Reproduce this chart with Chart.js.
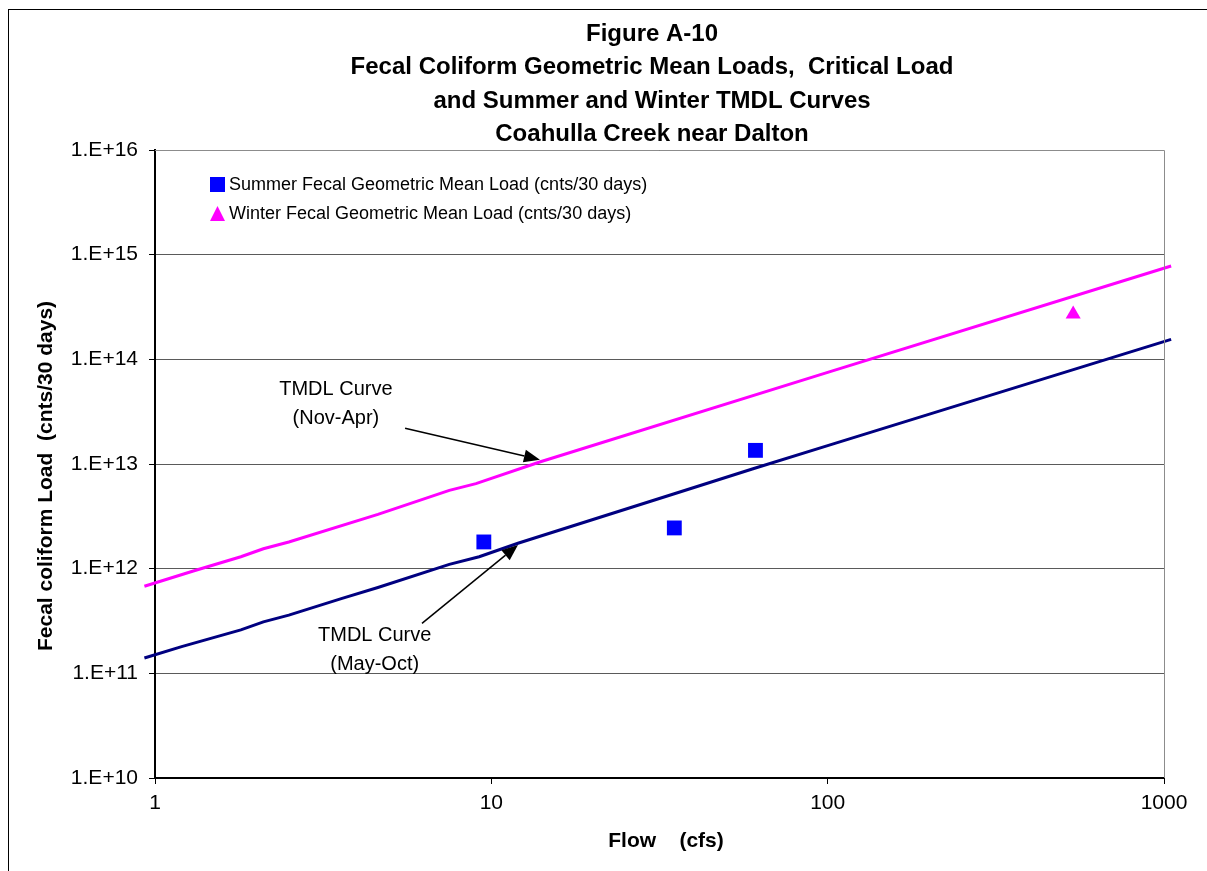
<!DOCTYPE html>
<html>
<head>
<meta charset="utf-8">
<script src="https://cdn.jsdelivr.net/npm/chart.js@4/dist/chart.umd.min.js"></script>
<style>
  html, body { margin: 0; padding: 0; background: #fff; }
  #wrap { position: relative; width: 1207px; height: 871px; overflow: hidden; }
  #frame { position: absolute; left: 8px; top: 9px; width: 1300px; height: 1000px; border: 1px solid #000; box-sizing: border-box; }
  canvas { position: absolute; left: 0; top: 0; }
</style>
</head>
<body>
<div id="wrap">
  <div id="frame"></div>
  <canvas id="chart" width="1207" height="871"></canvas>
</div>
<script>
// titles
const titleLines = [
  "Figure A-10",
  "Fecal Coliform Geometric Mean Loads,  Critical Load",
  "and Summer and Winter TMDL Curves",
  "Coahulla Creek near Dalton"
];
const xTitle = "Flow    (cfs)";
const yTitle = "Fecal coliform Load  (cnts/30 days)";

// tick values
const xTicks = [1, 10, 100, 1000];
const yTicks = [1e10, 1e11, 1e12, 1e13, 1e14, 1e15, 1e16];

// TMDL curves (flow cfs, load cnts/30 days)
const summerCurveFlow = [0.93, 1.2, 1.8, 2.1, 2.5, 3.6, 4.6, 7.5, 9.2, 12, 35, 60, 100, 1050];
const summerCurveLoad = [1.4e11, 1.8e11, 2.6e11, 3.1e11, 3.6e11, 5.2e11, 6.6e11, 1.1e12, 1.3e12, 1.75e12, 5.2e12, 9e12, 1.5e13, 1.55e14];
const winterCurveFlow = [0.93, 1.3, 1.8, 2.1, 2.5, 4.6, 7.5, 9, 14, 100, 1050];
const winterCurveLoad = [6.8e11, 9.5e11, 1.3e12, 1.55e12, 1.8e12, 3.3e12, 5.6e12, 6.5e12, 1.05e13, 7.5e13, 7.8e14];

// geometric mean loads
const summerFlow = [9.5, 35, 61];
const summerLoad = [1.8e12, 2.45e12, 1.35e13];
const winterFlow = [537];
const winterLoad = [2.7e14];

const summerLabel = "Summer Fecal Geometric Mean Load (cnts/30 days)";
const winterLabel = "Winter Fecal Geometric Mean Load (cnts/30 days)";

// annotation text + arrows, in data units
const notes = [
  { lines: ["TMDL Curve", "(Nov-Apr)"], at: [3.45, 5.1e13], from: [5.54, 2.2e13], to: [13.95, 1.1e13] },
  { lines: ["TMDL Curve", "(May-Oct)"], at: [4.5, 2.3e11], from: [6.22, 3.0e11], to: [12.0, 1.68e12] }
];

const FONT = "'Liberation Sans', Arial, sans-serif";
const navy = "#000080";
const magenta = "#FF00FF";

function pts(xs, ys) {
  return xs.map((x, i) => ({ x: x, y: ys[i] }));
}

function arrow(ctx, x1, y1, x2, y2) {
  const a = Math.atan2(y2 - y1, x2 - x1);
  const len = 16, half = 6.5;
  const bx = x2 - len * Math.cos(a), by = y2 - len * Math.sin(a);
  ctx.beginPath();
  ctx.moveTo(x1, y1);
  ctx.lineTo(bx, by);
  ctx.stroke();
  ctx.beginPath();
  ctx.moveTo(x2, y2);
  ctx.lineTo(bx + half * Math.sin(a), by - half * Math.cos(a));
  ctx.lineTo(bx - half * Math.sin(a), by + half * Math.cos(a));
  ctx.closePath();
  ctx.fill();
}

// draws title, axis titles, legend, plot border and the arrows
const extras = {
  id: "extras",
  afterDatasetsDraw(chart) {
    const ctx = chart.ctx;
    const area = chart.chartArea;
    const xs = chart.scales.x, ys = chart.scales.y;
    ctx.save();

    // top + right border of plot area
    ctx.strokeStyle = "#8c8c8c";
    ctx.lineWidth = 1;
    ctx.beginPath();
    ctx.moveTo(area.left, area.top + 0.5);
    ctx.lineTo(area.right + 0.5, area.top + 0.5);
    ctx.lineTo(area.right + 0.5, area.bottom);
    ctx.stroke();

    // titles
    ctx.fillStyle = "#000";
    ctx.textAlign = "center";
    ctx.textBaseline = "middle";
    ctx.font = "bold 24px " + FONT;
    titleLines.forEach((t, i) => ctx.fillText(t, 652, 34 + i * 33.5));

    ctx.font = "bold 21px " + FONT;
    ctx.fillText(xTitle, 666, 841);
    ctx.save();
    ctx.translate(46, 476);
    ctx.rotate(-Math.PI / 2);
    ctx.fillText(yTitle, 0, 0);
    ctx.restore();

    // legend
    ctx.textAlign = "left";
    ctx.font = "18px " + FONT;
    ctx.fillStyle = "#0000FF";
    ctx.fillRect(210, 177, 15, 15);
    ctx.fillStyle = magenta;
    ctx.beginPath();
    ctx.moveTo(217.5, 206);
    ctx.lineTo(225, 221);
    ctx.lineTo(210, 221);
    ctx.closePath();
    ctx.fill();
    ctx.fillStyle = "#000";
    ctx.fillText(summerLabel, 229, 185);
    ctx.fillText(winterLabel, 229, 214);

    // annotations
    ctx.textAlign = "center";
    ctx.font = "20px " + FONT;
    ctx.strokeStyle = "#000";
    ctx.fillStyle = "#000";
    ctx.lineWidth = 1.5;
    notes.forEach(n => {
      const tx = xs.getPixelForValue(n.at[0]);
      const ty = ys.getPixelForValue(n.at[1]);
      n.lines.forEach((l, i) => ctx.fillText(l, tx, ty + i * 29));
      arrow(ctx,
        xs.getPixelForValue(n.from[0]), ys.getPixelForValue(n.from[1]),
        xs.getPixelForValue(n.to[0]), ys.getPixelForValue(n.to[1]));
    });
    ctx.restore();
  }
};

new Chart(document.getElementById("chart"), {
  type: "scatter",
  data: {
    datasets: [
      {
        label: "TMDL Curve (Nov-Apr)",
        data: pts(winterCurveFlow, winterCurveLoad),
        showLine: true,
        borderColor: magenta,
        borderWidth: 3,
        pointRadius: 0,
        clip: { left: 12, right: 10, top: 0, bottom: 0 }
      },
      {
        label: "TMDL Curve (May-Oct)",
        data: pts(summerCurveFlow, summerCurveLoad),
        showLine: true,
        borderColor: navy,
        borderWidth: 3,
        pointRadius: 0,
        clip: { left: 12, right: 10, top: 0, bottom: 0 }
      },
      {
        label: summerLabel,
        data: pts(summerFlow, summerLoad),
        pointStyle: "rect",
        pointRadius: 10.5,
        backgroundColor: "#0000FF",
        borderColor: "#0000FF",
        borderWidth: 0
      },
      {
        label: winterLabel,
        data: pts(winterFlow, winterLoad),
        pointStyle: "triangle",
        pointRadius: 8.7,
        backgroundColor: magenta,
        borderColor: magenta,
        borderWidth: 0
      }
    ]
  },
  options: {
    responsive: false,
    animation: false,
    layout: { padding: { left: 0, top: 150, right: 43, bottom: 60 } },
    plugins: {
      legend: { display: false },
      tooltip: { enabled: false }
    },
    scales: {
      x: {
        type: "logarithmic",
        min: 1,
        max: 1000,
        afterBuildTicks: s => { s.ticks = xTicks.map(v => ({ value: v })); },
        afterFit: s => { s.height = 33; },
        border: { color: "#000", width: 2 },
        grid: { drawOnChartArea: false, drawTicks: true, tickLength: 6, color: "#000" },
        ticks: {
          color: "#000",
          font: { family: FONT, size: 21 },
          padding: 7,
          maxRotation: 0,
          autoSkip: false,
          callback: v => String(v)
        }
      },
      y: {
        type: "logarithmic",
        min: 1e10,
        max: 1e16,
        afterBuildTicks: s => { s.ticks = yTicks.map(v => ({ value: v })); },
        afterFit: s => { s.width = 155; },
        border: { color: "#000", width: 2 },
        grid: { color: "#5a5a5a", lineWidth: 1, drawTicks: true, tickLength: 6, tickColor: "#000" },
        ticks: {
          color: "#000",
          font: { family: FONT, size: 21 },
          padding: 11,
          autoSkip: false,
          callback: v => "1.E+" + Math.round(Math.log10(v))
        }
      }
    }
  },
  plugins: [extras]
});
</script>
</body>
</html>
